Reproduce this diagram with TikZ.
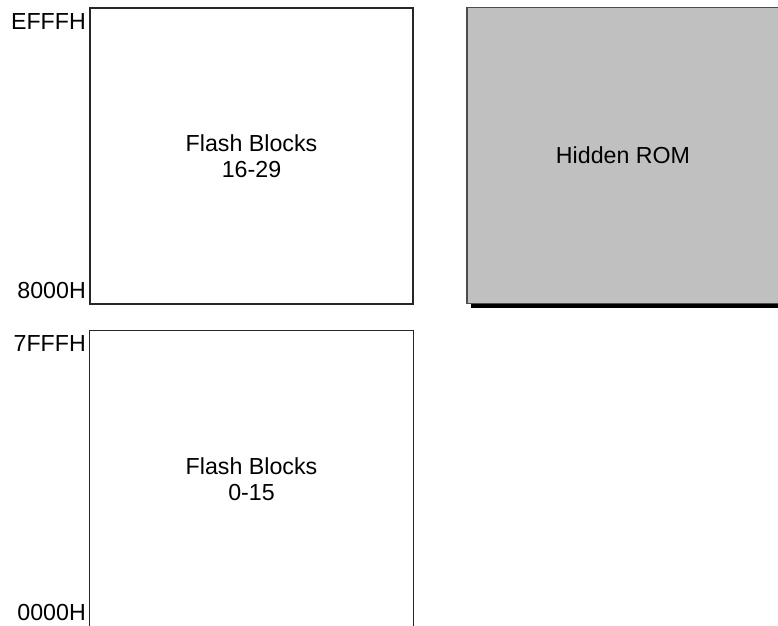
\documentclass[tikz,border=0pt]{standalone}
\usepackage{fontspec}
\setmainfont{Liberation Sans}
\begin{document}
\begin{tikzpicture}[x=1pt,y=-1pt,
  lbl/.style={font=\fontsize{23.2}{26.5}\selectfont, inner sep=0pt, align=center},
  addr/.style={lbl, anchor=east},
  blk/.style={draw=black!85, line width=1.1pt, fill=white, minimum width=323pt, minimum height=296pt, inner sep=0pt},
  rombox/.style={draw=black!70, line width=1.1pt, fill={rgb,255:red,192;green,192;blue,192}, minimum width=312pt, minimum height=296pt, inner sep=0pt}]
\useasboundingbox (0,0) rectangle (778,625);
% shadow of hidden ROM
\fill[black] (470.5,303.5) rectangle (790,308);
\node[rombox] (rom) at (623,155.5) {};
\node[lbl] (romt) at (rom.center) {Hidden ROM};
% top flash block
\node[blk] (top) at (251.5,156) {};
\node[lbl] (topt) at (top.center) {Flash Blocks\\16-29};
% lower flash block (bottom edge outside picture)
\node[minimum width=323pt, minimum height=296pt, inner sep=0pt] (low) at (251.5,479) {};
\draw[draw=black!85, line width=1.1pt] (low.south west) -- (low.north west) -- (low.north east) -- (low.south east);
\node[lbl] (lowt) at (low.center) {Flash Blocks\\0-15};
% address labels
\node[addr, anchor=north east] (a1) at (86,13) {EFFFH};
\node[addr, anchor=base east] (a2) at (86,298.5) {8000H};
\node[addr, anchor=north east] (a3) at (86,335.5) {7FFFH};
\node[addr, anchor=base east] (a4) at (86,620) {0000H};
\end{tikzpicture}
\end{document}
